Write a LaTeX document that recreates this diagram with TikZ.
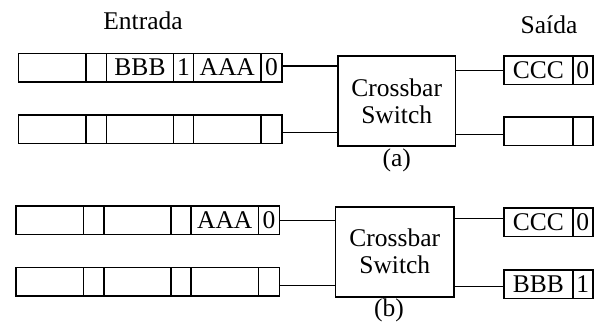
\documentclass[tikz,border=0pt]{standalone}
\usepackage{fontspec}
\setmainfont{Liberation Serif}
\begin{document}
\begin{tikzpicture}[x=1pt,y=-1pt,
  every node/.style={font=\fontsize{25.5}{27}\selectfont},
  cell/.style={draw, line width=1.6pt, minimum height=28.5pt, inner sep=0pt, outer sep=0pt, anchor=north west},
  xbar/.style={draw, line width=1.6pt, minimum width=117.5pt, minimum height=90pt, inner sep=0pt, align=center},
  wire/.style={line width=1.5pt},
  lbl/.style={anchor=base, inner sep=0pt}]
\useasboundingbox (0,0) rectangle (598,325);
% labels
\node[lbl] (entrada) at (143,29.5) {Entrada};
\node[lbl] (saida) at (549,33.5) {Saída};
% ---------- (a) ----------
\node[cell, minimum width=67.5pt] (a11) at (18.5,53.3) {};
\node[cell, minimum width=20.5pt] (a12) at (a11.north east) {};
\node[cell, minimum width=67pt] (a13) at (a12.north east) {BBB};
\node[cell, minimum width=20pt] (a14) at (a13.north east) {1};
\node[cell, minimum width=67.5pt] (a15) at (a14.north east) {AAA};
\node[cell, minimum width=21pt] (a16) at (a15.north east) {0};
\node[cell, minimum width=67.5pt] (a21) at (18.5,115) {};
\node[cell, minimum width=20.5pt] (a22) at (a21.north east) {};
\node[cell, minimum width=67pt] (a23) at (a22.north east) {};
\node[cell, minimum width=20pt] (a24) at (a23.north east) {};
\node[cell, minimum width=67.5pt] (a25) at (a24.north east) {};
\node[cell, minimum width=21pt] (a26) at (a25.north east) {};
\node[xbar] (xa) at (396.7,101) {Crossbar\\Switch};
\node[cell, minimum width=68.7pt] (oa11) at (504,56) {CCC};
\node[cell, minimum width=20pt] (oa12) at (oa11.north east) {0};
\node[cell, minimum width=68.7pt] (oa21) at (504,117) {};
\node[cell, minimum width=20pt] (oa22) at (oa21.north east) {};
\node[lbl] (capa) at (396.7,166) {(a)};
\draw[wire] ([yshift=1.5pt]a16.east) -- ([yshift=1.5pt]a16.east -| xa.west);
\draw[wire] ([yshift=-3pt]a26.east) -- ([yshift=-3pt]a26.east -| xa.west);
\draw[wire] (oa11.west -| xa.east) -- (oa11.west);
\draw[wire] ([yshift=-3pt]oa21.west -| xa.east) -- ([yshift=-3pt]oa21.west);
% ---------- (b) ----------
\node[cell, minimum width=67.5pt] (b11) at (16,206) {};
\node[cell, minimum width=20.5pt] (b12) at (b11.north east) {};
\node[cell, minimum width=67pt] (b13) at (b12.north east) {};
\node[cell, minimum width=20pt] (b14) at (b13.north east) {};
\node[cell, minimum width=67.5pt] (b15) at (b14.north east) {AAA};
\node[cell, minimum width=21pt] (b16) at (b15.north east) {0};
\node[cell, minimum width=67.5pt] (b21) at (16,267.3) {};
\node[cell, minimum width=20.5pt] (b22) at (b21.north east) {};
\node[cell, minimum width=67pt] (b23) at (b22.north east) {};
\node[cell, minimum width=20pt] (b24) at (b23.north east) {};
\node[cell, minimum width=67.5pt] (b25) at (b24.north east) {};
\node[cell, minimum width=21pt] (b26) at (b25.north east) {};
\node[xbar, minimum width=118.3pt] (xb) at (394.8,251.7) {Crossbar\\Switch};
\node[cell, minimum width=68.7pt] (ob11) at (504,208) {CCC};
\node[cell, minimum width=20pt] (ob12) at (ob11.north east) {0};
\node[cell, minimum width=68.7pt] (ob21) at (504,270) {BBB};
\node[cell, minimum width=20pt] (ob22) at (ob21.north east) {1};
\node[lbl] (capb) at (389,316.7) {(b)};
\draw[wire] (b16.east) -- (b16.east -| xb.west);
\draw[wire] ([yshift=-4pt]b26.east) -- ([yshift=-4pt]b26.east -| xb.west);
\draw[wire] ([yshift=4pt]ob11.west -| xb.east) -- ([yshift=4pt]ob11.west);
\draw[wire] ([yshift=-2pt]ob21.west -| xb.east) -- ([yshift=-2pt]ob21.west);
\end{tikzpicture}
\end{document}
